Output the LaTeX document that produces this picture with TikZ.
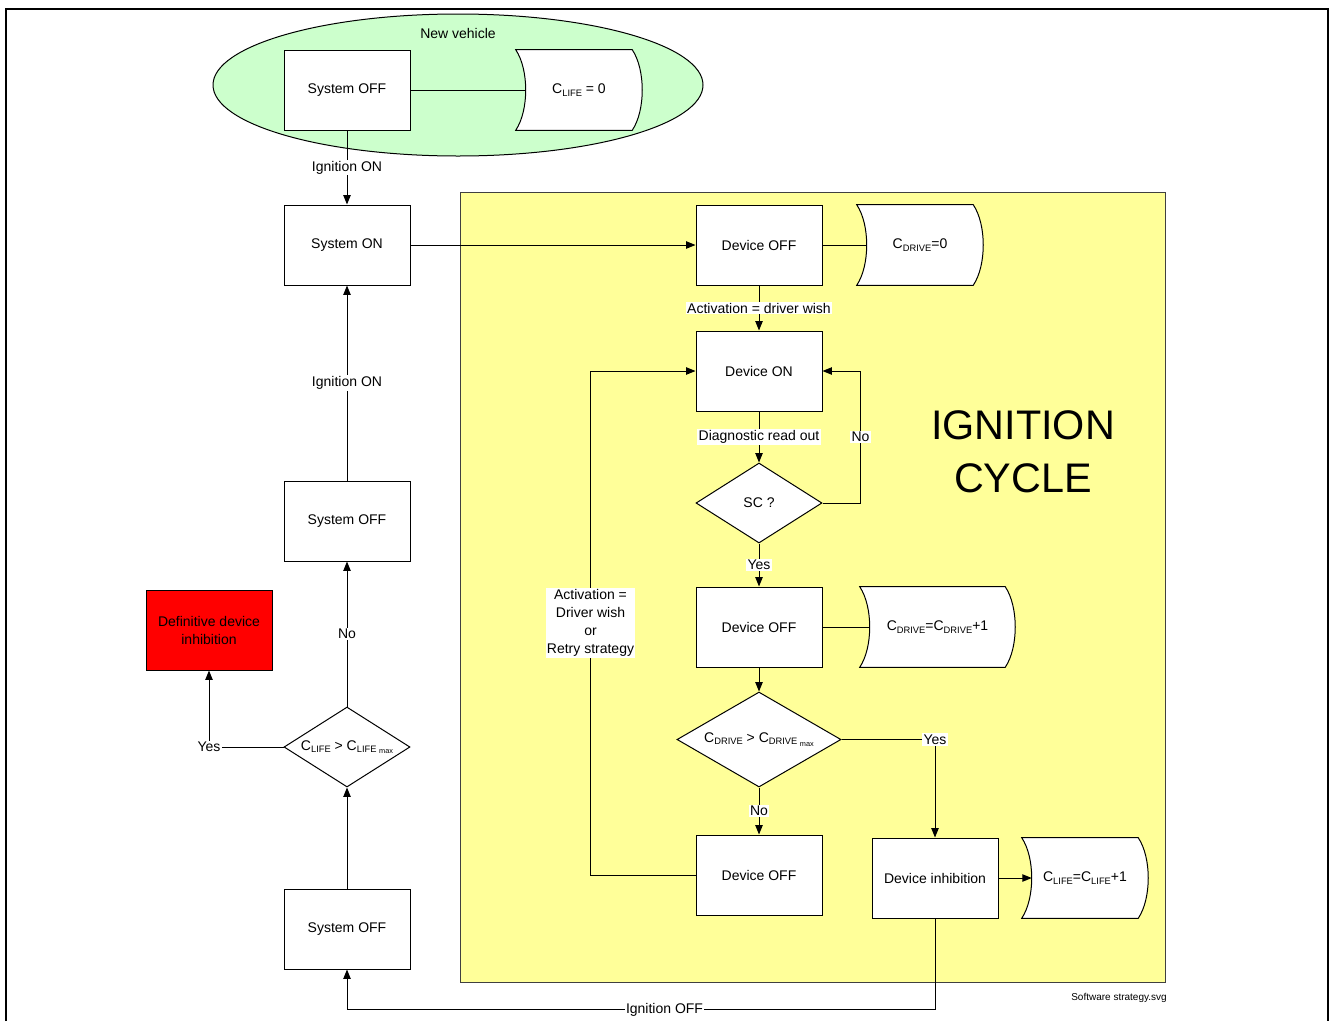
\documentclass[tikz,border=0pt]{standalone}
\usepackage{fontspec}
\setmainfont{Liberation Sans}
\usetikzlibrary{arrows.meta,shapes.geometric,calc,backgrounds}
\newcommand\sbs[1]{\raisebox{-0.3ex}{\fontsize{7}{8}\selectfont #1}}
\newcommand\sbm[1]{\raisebox{-0.3ex}{\fontsize{5.5}{6}\selectfont #1}}
\newcommand\storeshape[1]{%
  \draw[line width=0.75pt,fill=white] (#1.north west) -- ($(#1.north east)+(-10,0)$)
    .. controls ($(#1.north east)+(3.3,20)$) and ($(#1.south east)+(3.3,-20)$) .. ($(#1.south east)+(-10,0)$)
    -- (#1.south west)
    .. controls ($(#1.south west)+(13.3,-20)$) and ($(#1.north west)+(13.3,20)$) .. cycle;}
\definecolor{ygl}{HTML}{FFFF99}
\definecolor{grn}{HTML}{CCFFCC}
\begin{document}
\begin{tikzpicture}[x=0.75pt,y=-0.75pt,
  txt/.style={font=\fontsize{10.5}{13.5}\selectfont},
  box/.style={txt,draw,line width=0.75pt,fill=white,minimum width=94.5pt,minimum height=60pt,inner sep=0pt,align=center},
  store/.style={txt,minimum width=94.5pt,minimum height=60pt,inner sep=0pt,align=center},
  dia/.style={txt,diamond,draw,line width=0.75pt,fill=white,inner sep=0pt},
  lbl/.style={txt,fill=white,inner sep=1pt,align=center},
  arr/.style={line width=0.75pt,-{Triangle[length=7pt,width=5.5pt]}},
  ln/.style={line width=0.75pt}]
\useasboundingbox (0,0) rectangle (1330,1021);
\draw[line width=1pt] (6,1021) -- (6,9) -- (1328,9) -- (1328,1021);

\begin{scope}[on background layer]
\fill[white] (0,0) rectangle (1330,1021);
\draw[line width=0.75pt,fill=grn] (458,85) ellipse [x radius=245, y radius=71];
\draw[line width=0.75pt,draw=black!75,fill=ygl] (460,192) rectangle (1165,982);
\end{scope}

\node[txt] (nv) at (458,33) {New vehicle};
\node[box] (off0) at (347,90) {System OFF};
\node[store] (c0) at (579,90) {C\sbs{LIFE} = 0};
\node[box] (on) at (347,245) {System ON};
\node[box] (off2) at (347,521) {System OFF};
\node[dia,minimum width=94.5pt,minimum height=60pt,aspect=1.575] (cl) at (347,747) {C\sbs{LIFE} > C\sbs{LIFE \sbm{max}}};
\node[box] (off3) at (347,929) {System OFF};
\node[box,fill={rgb,255:red,255;green,0;blue,0}] (red) at (209,630) {Definitive device\\inhibition};

\node[box] (doff1) at (759,245) {Device OFF};
\node[store] (cd0) at (920,245) {C\sbs{DRIVE}=0};
\node[box] (don) at (759,371) {Device ON};
\node[dia,minimum width=94.5pt,minimum height=60pt,aspect=1.575] (sc) at (759,503) {SC ?};
\node[box] (doff2) at (759,627) {Device OFF};
\node[store,minimum width=116.25pt] (cd1) at (937.5,627) {C\sbs{DRIVE}=C\sbs{DRIVE}+1};
\node[dia,minimum width=123pt,minimum height=71.25pt,aspect=1.73] (cmp) at (759,739.5) {C\sbs{DRIVE} > C\sbs{DRIVE \sbm{max}}};
\node[box] (doff3) at (759,875) {Device OFF};
\node[box] (inh) at (935,878) {Device inhibition};
\node[store] (cl1) at (1085,878) {C\sbs{LIFE}=C\sbs{LIFE}+1};

\node[font=\fontsize{31}{40}\selectfont,align=center] (ic) at (1023,452) {IGNITION\\CYCLE};
\node[font=\fontsize{7.5}{9}\selectfont] (sw) at (1119,998) {Software strategy.svg};

\begin{scope}[on background layer]
\storeshape{c0}
\storeshape{cd0}
\storeshape{cd1}
\storeshape{cl1}
\end{scope}

\draw[ln] (off0) -- ($(c0.west)+(10,0)$);
\draw[arr] (off0) -- node[lbl]{Ignition ON} (on);
\draw[arr] (on) -- (doff1);
\draw[ln] (doff1) -- ($(cd0.west)+(10,0)$);
\draw[arr] (doff1) -- node[lbl]{Activation = driver wish} (don);
\draw[arr] (don) -- node[lbl]{Diagnostic read out} (sc);
\draw[arr] (sc.east) -- ++(38,0) |- node[lbl,pos=0.25]{No} (don.east);
\draw[arr] (sc) -- node[lbl]{Yes} (doff2);
\draw[ln] (doff2) -- ($(cd1.west)+(10,0)$);
\draw[arr] (doff2) -- (cmp);
\draw[arr] (cmp.east) -| node[lbl,pos=0.5]{Yes} (inh.north);
\draw[arr] (cmp) -- node[lbl]{No} (doff3);
\draw[arr] (doff3.west) -- ++(-105,0) |- node[lbl,pos=0.25]{Activation =\\Driver wish\\or\\Retry strategy} (don.west);
\draw[arr] (inh) -- ($(cl1.west)+(10,0)$);
\draw[arr] (inh.south) -- ++(0,91) -| node[lbl,pos=0.23]{Ignition OFF} (off3.south);
\draw[arr] (off3) -- (cl);
\draw[arr] (cl) -- node[lbl]{No} (off2);
\draw[arr] (off2) -- node[lbl]{Ignition ON} (on);
\draw[arr] (cl.west) -| node[lbl,pos=0.5]{Yes} (red.south);
\end{tikzpicture}
\end{document}
